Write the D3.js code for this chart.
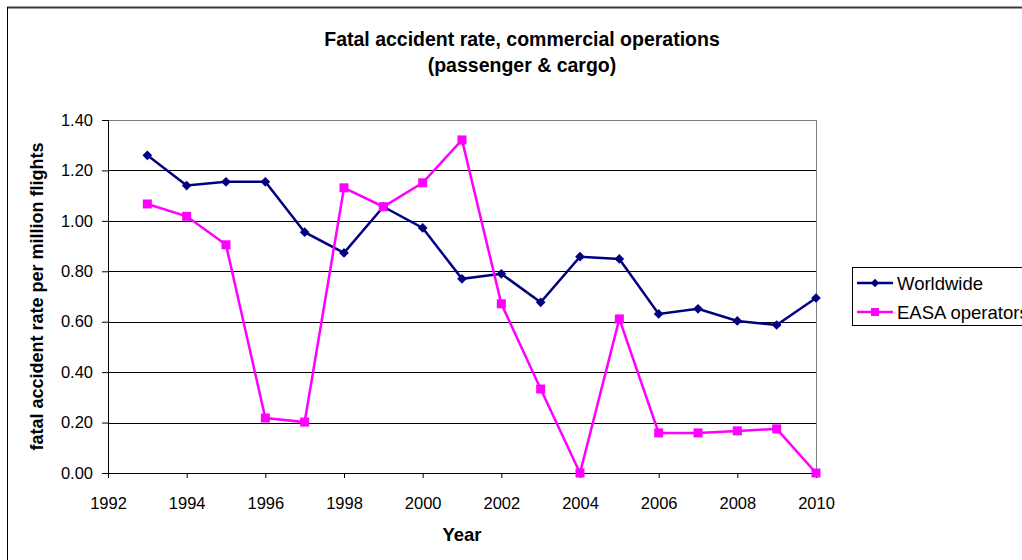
<!DOCTYPE html>
<html>
<head>
<meta charset="utf-8">
<script src="https://cdn.jsdelivr.net/npm/d3@7"></script>
<style>
  body { margin: 0; background: #fff; }
  text { font-family: "Liberation Sans", Arial, sans-serif; }
</style>
</head>
<body>
<div id="chart"></div>
<script>
const years = [1993, 1994, 1995, 1996, 1997, 1998, 1999, 2000, 2001, 2002, 2003, 2004, 2005, 2006, 2007, 2008, 2009, 2010];
const worldwide = [1.26, 1.14, 1.155, 1.155, 0.955, 0.873, 1.056, 0.972, 0.77, 0.79, 0.677, 0.858, 0.849, 0.631, 0.651, 0.603, 0.587, 0.694];
const easa = [1.067, 1.018, 0.905, 0.218, 0.202, 1.131, 1.056, 1.151, 1.321, 0.671, 0.333, 0, 0.611, 0.159, 0.159, 0.167, 0.175, 0];
const xTicks = [1992, 1994, 1996, 1998, 2000, 2002, 2004, 2006, 2008, 2010];
const yTicks = [0, 0.2, 0.4, 0.6, 0.8, 1.0, 1.2, 1.4];
const seriesNames = ["Worldwide", "EASA operators"];

const width = 1022;
const height = 560;
const plotLeft = 108, plotRight = 816, plotTop = 120, plotBottom = 473;

const svg = d3.select("#chart")
  .append("svg")
  .attr("width", width)
  .attr("height", height);

// outer frame
svg.append("line")
  .attr("x1", 7).attr("x2", width).attr("y1", 7.5).attr("y2", 7.5)
  .attr("stroke", "#3a3a3a").attr("stroke-width", 2);
svg.append("line")
  .attr("x1", 7.5).attr("x2", 7.5).attr("y1", 7).attr("y2", height)
  .attr("stroke", "#000").attr("stroke-width", 1);

const x = d3.scaleLinear().domain([1992, 2010]).range([plotLeft, plotRight]);
const y = d3.scaleLinear().domain([0, 1.4]).range([plotBottom, plotTop]);

// gridlines
svg.append("g")
  .selectAll("line")
  .data(yTicks.filter(d => d > 0))
  .enter()
  .append("line")
  .attr("x1", plotLeft).attr("x2", plotRight)
  .attr("y1", d => Math.round(y(d)) + 0.5)
  .attr("y2", d => Math.round(y(d)) + 0.5)
  .attr("stroke", d => d === 1.4 ? "#808080" : "#000")
  .attr("stroke-width", 1);

// right border of plot
svg.append("line")
  .attr("x1", plotRight + 0.5).attr("x2", plotRight + 0.5)
  .attr("y1", plotTop).attr("y2", plotBottom)
  .attr("stroke", "#808080");

// axes
const yAxis = d3.axisLeft(y)
  .tickValues(yTicks)
  .tickFormat(d3.format(".2f"))
  .tickSize(6)
  .tickPadding(9);

const xAxis = d3.axisBottom(x)
  .tickValues(xTicks)
  .tickFormat(d3.format("d"))
  .tickSize(5)
  .tickPadding(19);

const gy = svg.append("g")
  .attr("transform", `translate(${plotLeft},0)`)
  .call(yAxis);
const gx = svg.append("g")
  .attr("transform", `translate(0,${plotBottom})`)
  .call(xAxis);

[gx, gy].forEach(g => {
  g.select(".domain").attr("stroke", "#000");
  g.selectAll(".tick line").attr("stroke", "#000");
  g.selectAll("text")
    .attr("font-size", 16.5)
    .attr("fill", "#000")
    .style("font-family", "'Liberation Sans', Arial, sans-serif");
});
gy.select(".domain").attr("d", `M0.5,${plotTop}V${plotBottom}`);
gx.select(".domain").attr("d", `M${plotLeft},0.5H${plotRight}`);

// lines
const line = d3.line()
  .x((d, i) => x(years[i]))
  .y(d => y(d));

svg.append("path")
  .datum(worldwide)
  .attr("d", line)
  .attr("fill", "none")
  .attr("stroke", "#000080")
  .attr("stroke-width", 2.5);

svg.append("path")
  .datum(easa)
  .attr("d", line)
  .attr("fill", "none")
  .attr("stroke", "#ff00ff")
  .attr("stroke-width", 2.5);

// markers
svg.append("g")
  .selectAll("path")
  .data(worldwide)
  .enter()
  .append("path")
  .attr("d", d3.symbol().type(d3.symbolDiamond2).size(60))
  .attr("transform", (d, i) => `translate(${x(years[i])},${y(d)})`)
  .attr("fill", "#000080");

svg.append("g")
  .selectAll("rect")
  .data(easa)
  .enter()
  .append("rect")
  .attr("x", (d, i) => x(years[i]) - 4.5)
  .attr("y", d => y(d) - 4.5)
  .attr("width", 9)
  .attr("height", 9)
  .attr("fill", "#ff00ff");

// titles
svg.append("text")
  .attr("x", 522).attr("y", 46)
  .attr("text-anchor", "middle")
  .attr("font-size", 19.5).attr("font-weight", "bold")
  .text("Fatal accident rate, commercial operations");
svg.append("text")
  .attr("x", 522).attr("y", 72)
  .attr("text-anchor", "middle")
  .attr("font-size", 19.5).attr("font-weight", "bold")
  .text("(passenger & cargo)");

svg.append("text")
  .attr("x", (plotLeft + plotRight) / 2).attr("y", 541)
  .attr("text-anchor", "middle")
  .attr("font-size", 18.5).attr("font-weight", "bold")
  .text("Year");

svg.append("text")
  .attr("transform", `translate(43,${(plotTop + plotBottom) / 2}) rotate(-90)`)
  .attr("text-anchor", "middle")
  .attr("font-size", 18).attr("font-weight", "bold")
  .text("fatal accident rate per million flights");

// legend
const legend = svg.append("g");
legend.append("rect")
  .attr("x", 852.5).attr("y", 267.5)
  .attr("width", 200).attr("height", 58)
  .attr("fill", "#fff").attr("stroke", "#000");

const legendColors = ["#000080", "#ff00ff"];
seriesNames.forEach((name, i) => {
  const ly = 283 + i * 29;
  legend.append("line")
    .attr("x1", 857).attr("x2", 893).attr("y1", ly).attr("y2", ly)
    .attr("stroke", legendColors[i]).attr("stroke-width", 2.5);
  if (i === 0) {
    legend.append("path")
      .attr("d", d3.symbol().type(d3.symbolDiamond2).size(45))
      .attr("transform", `translate(875,${ly})`)
      .attr("fill", legendColors[i]);
  } else {
    legend.append("rect")
      .attr("x", 871).attr("y", ly - 4).attr("width", 8).attr("height", 8)
      .attr("fill", legendColors[i]);
  }
  legend.append("text")
    .attr("x", 897).attr("y", ly + 6.5)
    .attr("font-size", 18.5)
    .text(name);
});
</script>
</body>
</html>
